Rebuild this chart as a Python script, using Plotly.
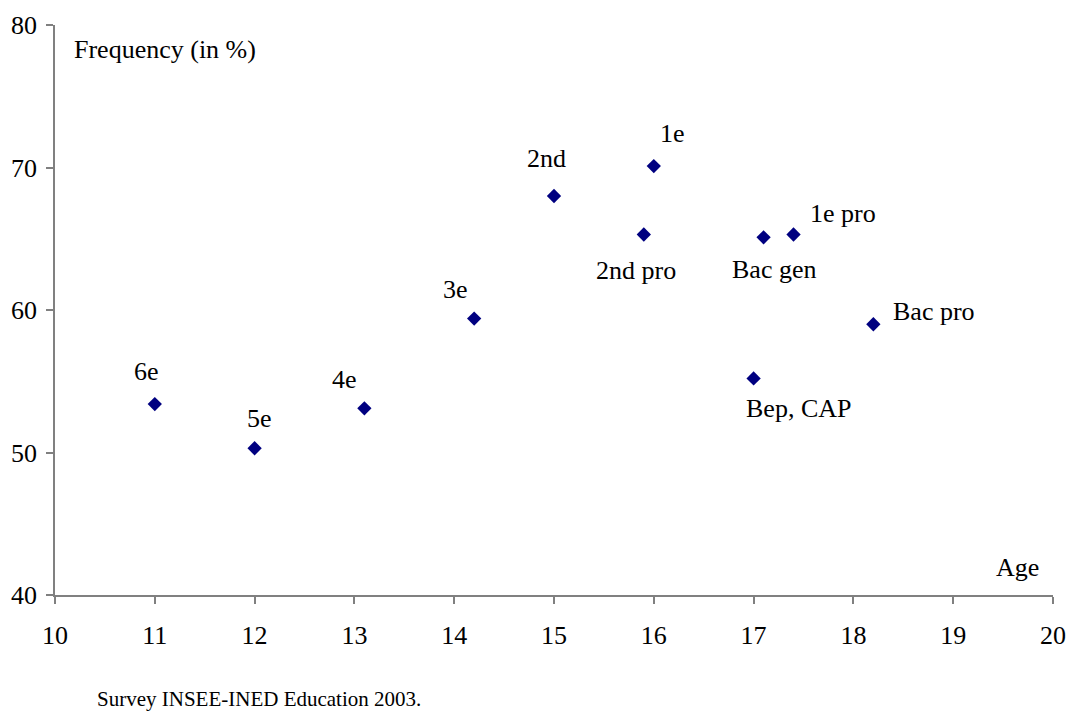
import plotly.graph_objects as go

labels = ["6e", "5e", "4e", "3e", "2nd", "1e", "2nd pro", "Bac gen", "1e pro", "Bac pro", "Bep, CAP"]
age = [11.0, 12.0, 13.1, 14.2, 15.0, 16.0, 15.9, 17.1, 17.4, 18.2, 17.0]
freq = [53.4, 50.3, 53.1, 59.4, 68.0, 70.1, 65.3, 65.1, 65.3, 59.0, 55.2]
x_ticks = [10, 11, 12, 13, 14, 15, 16, 17, 18, 19, 20]
y_ticks = [40, 50, 60, 70, 80]

# label offsets in pixels (dx, dy up)
offsets = [(-8, 33), (5, 30), (-20, 29), (-19, 29), (-8, 38), (19, 33), (-8, -36), (10, -32), (49, 21), (61, 13), (45, -30)]

FONT = "Liberation Serif"
FS = 26

fig = go.Figure()
fig.add_trace(go.Scatter(
    x=age, y=freq, mode="markers",
    marker=dict(symbol="diamond", size=11, color="#000080"),
    hoverinfo="skip", showlegend=False,
))

ann = []
for lab, xv, yv, (dx, dy) in zip(labels, age, freq, offsets):
    ann.append(dict(x=xv, y=yv, xref="x", yref="y", text=lab, showarrow=False,
                    xshift=dx, yshift=dy, font=dict(family=FONT, size=FS, color="black")))
ann.append(dict(x=(72 - 55) / 998, y=(595 - 49) / 570, xref="paper", yref="paper", text="Frequency (in %)",
                showarrow=False, xanchor="left", yanchor="middle",
                font=dict(family=FONT, size=FS, color="black")))
ann.append(dict(x=(1041 - 55) / 998, y=(595 - 567) / 570, xref="paper", yref="paper", text="Age",
                showarrow=False, xanchor="right", yanchor="middle",
                font=dict(family=FONT, size=FS, color="black")))
ann.append(dict(x=(95 - 55) / 998, y=(595 - 699) / 570, xref="paper", yref="paper",
                text="Survey INSEE-INED Education 2003.", showarrow=False,
                xanchor="left", yanchor="middle", font=dict(family=FONT, size=21, color="black")))

axis_common = dict(showgrid=False, zeroline=False, showline=True, linecolor="#808080", linewidth=1.5,
                   ticks="outside", ticklen=7, tickcolor="#808080", tickwidth=1.5,
                   tickfont=dict(family=FONT, size=FS, color="black"), fixedrange=True, automargin=False)

fig.update_layout(
    width=1073, height=715,
    margin=dict(l=55, r=20, t=25, b=120),
    paper_bgcolor="white", plot_bgcolor="white",
    font=dict(family=FONT, size=FS, color="black"),
    annotations=ann,
    xaxis=dict(range=[10, 20], tickvals=x_ticks, ticktext=[str(v) for v in x_ticks],
               ticklabelstandoff=9, **axis_common),
    yaxis=dict(range=[40, 80], tickvals=y_ticks, ticktext=[str(v) for v in y_ticks],
               ticklabelstandoff=4, **axis_common),
)

fig.write_html("out.html", config={"displayModeBar": False},
               post_script="document.body.style.margin='0px';document.body.style.overflow='hidden';")
